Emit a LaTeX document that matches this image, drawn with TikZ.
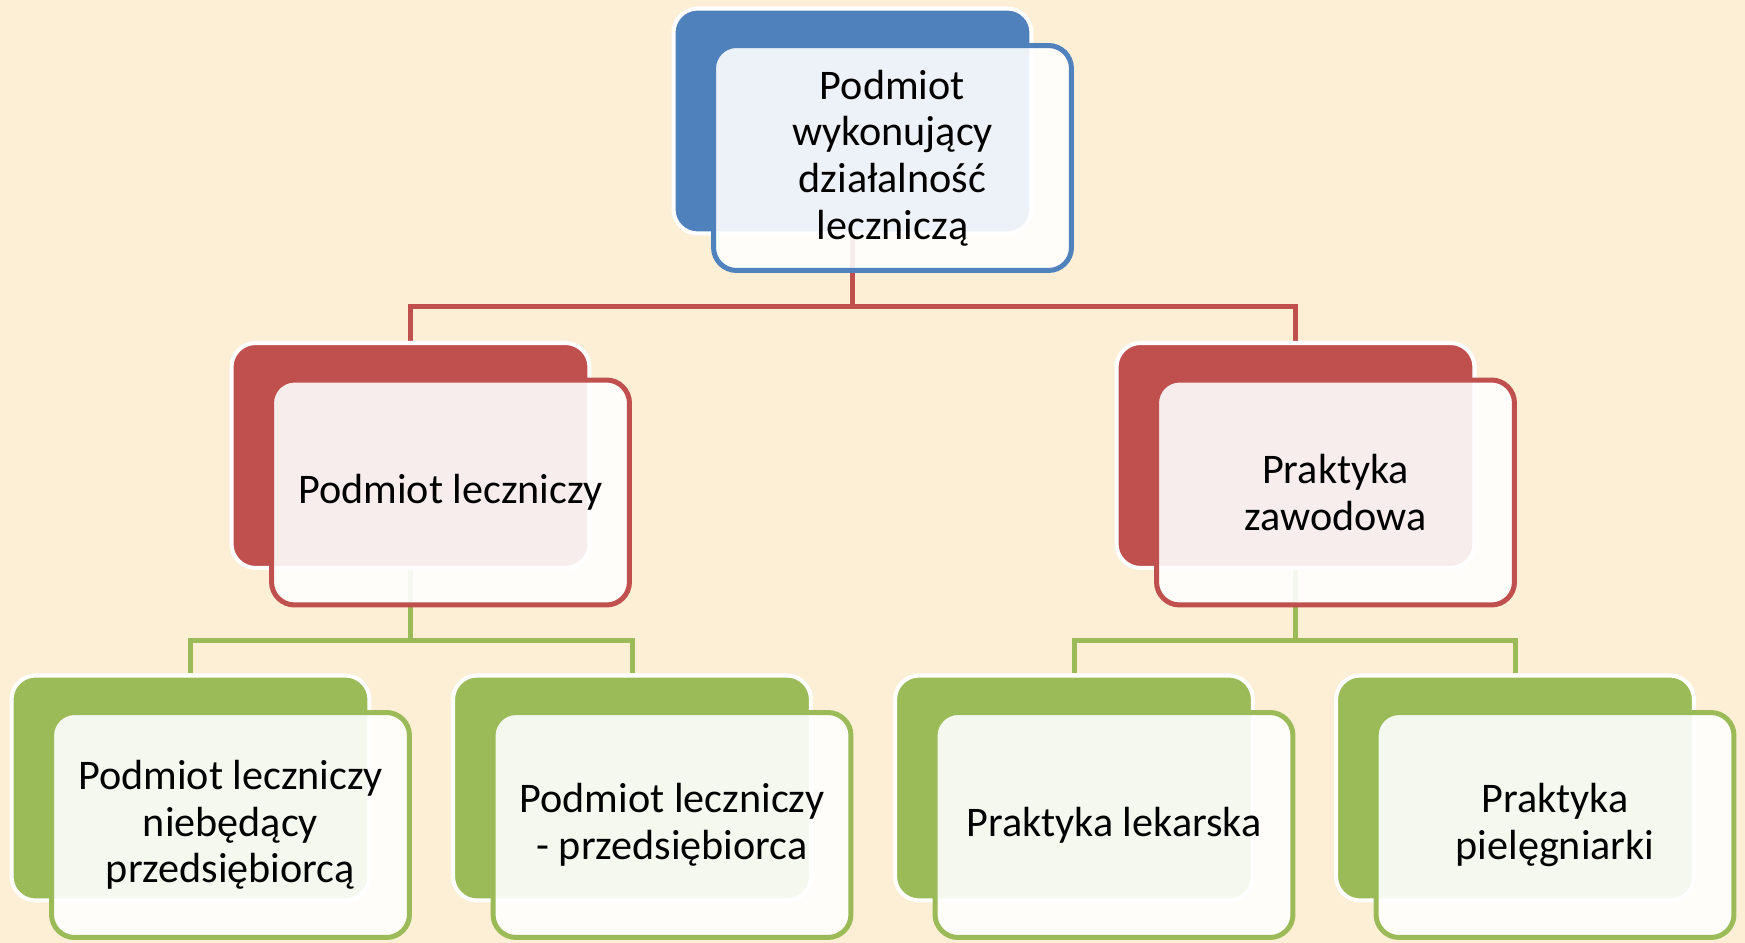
\documentclass[tikz,border=0pt]{standalone}
\usepackage{fontspec}
\setmainfont{Carlito}
\usepackage{tikz}

\definecolor{paper}{RGB}{252,239,214}
\definecolor{accblue}{RGB}{79,129,189}
\definecolor{accred}{RGB}{192,80,77}
\definecolor{accgreen}{RGB}{155,187,89}

\pgfdeclarelayer{paperlayer}
\pgfdeclarelayer{lines}
\pgfsetlayers{paperlayer,lines,main}

\tikzset{
  backbox/.style={draw=white, line width=2.3pt, rounded corners=0.48cm,
    minimum width=7.16cm, minimum height=4.5cm, fill=#1},
  frontbox/.style={draw=#1, line width=2.85pt, rounded corners=0.46cm,
    minimum width=7.16cm, minimum height=4.5cm, fill=white, fill opacity=0.9,
    text opacity=1, align=center, font=\fontsize{24}{26.6}\selectfont},
  link/.style={draw=#1, line width=2.85pt},
}

\begin{document}
\begin{tikzpicture}[x=0.02cm, y=0.02cm]
    \begin{pgfonlayer}{paperlayer}
      \fill [paper] (0, 0) rectangle (1745, 943);
    \end{pgfonlayer}
    \useasboundingbox (0, 0) rectangle (1745, 943);

    % back plates
    \node [backbox=accblue] (top) at (852.5, 822) {};
    \node [backbox=accred] (ml) at (410.5, 487.5) {};
    \node [backbox=accred] (mr) at (1295.5, 487.5) {};
    \node [backbox=accgreen] (b1) at (190.5, 155) {};
    \node [backbox=accgreen] (b2) at (632, 155) {};
    \node [backbox=accgreen] (b3) at (1074, 155) {};
    \node [backbox=accgreen] (b4) at (1515, 155) {};

    % front cards with text
    \node [frontbox=accblue] (topf) at ([shift={(40,-37)}]top) {Podmiot\\wykonujący\\działalność\\leczniczą};
    \node [frontbox=accred] (mlf) at ([shift={(40,-37)}]ml) {Podmiot leczniczy};
    \node [frontbox=accred] (mrf) at ([shift={(40,-37)}]mr) {Praktyka\\zawodowa};
    \node [frontbox=accgreen] (b1f) at ([shift={(40,-37)}]b1) {Podmiot leczniczy\\niebędący\\przedsiębiorcą};
    \node [frontbox=accgreen] (b2f) at ([shift={(40,-37)}]b2) {Podmiot leczniczy\\- przedsiębiorca};
    \node [frontbox=accgreen] (b3f) at ([shift={(40,-37)}]b3) {Praktyka lekarska};
    \node [frontbox=accgreen] (b4f) at ([shift={(40,-37)}]b4) {Praktyka\\pielęgniarki};

    % connectors
    \begin{pgfonlayer}{lines}
      \draw [link=accred] (top.center) -- ++(0, -185.5) coordinate (tj) -| (ml.north);
      \draw [link=accred] (tj) -| (mr.north);
      \draw [link=accgreen] (ml.center) -- ++(0, -185.5) coordinate (lj) -| (b1.north);
      \draw [link=accgreen] (lj) -| (b2.north);
      \draw [link=accgreen] (mr.center) -- ++(0, -185.5) coordinate (rj) -| (b3.north);
      \draw [link=accgreen] (rj) -| (b4.north);
    \end{pgfonlayer}
  \end{tikzpicture}
\end{document}
